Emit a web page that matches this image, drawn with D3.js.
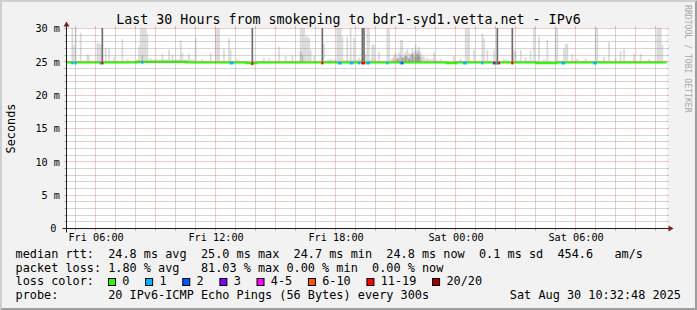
<!DOCTYPE html>
<html><head><meta charset="utf-8">
<script src="https://cdn.jsdelivr.net/npm/d3@7"></script>
<style>
html,body{margin:0;padding:0;background:#f2f2f2;}
svg{display:block;}
text{font-family:"DejaVu Sans Mono",monospace;}
</style></head><body>
<svg id="c" width="697" height="310"></svg>
<script>
// ---------- data ----------
const title = "Last 30 Hours from smokeping to bdr1-syd1.vetta.net - IPv6";
const yTicks = [0, 5, 10, 15, 20, 25, 30];
const yTickLabels = ["0", "5 m", "10 m", "15 m", "20 m", "25 m", "30 m"];
const xTickLabels = ["Fri 06:00", "Fri 12:00", "Fri 18:00", "Sat 00:00", "Sat 06:00"];
// median rtt (ms), one value per 30 minutes from start
const medianRtt = [24.9,24.9,24.9,24.9,24.9,24.9,24.9,25.0,25.0,25.0,
  25.0,25.0,24.9,24.9,24.9,24.9,24.9,24.9,24.8,24.9,
  24.9,24.9,24.9,24.9,24.9,24.9,24.9,24.9,24.9,24.9,
  24.9,24.9,24.9,24.9,24.9,24.9,24.9,24.9,24.8,24.9,
  24.9,24.9,24.9,24.9,24.9,24.9,24.9,24.8,24.8,24.9,
  24.9,24.9,24.9,24.9,24.9,24.9,24.9,24.9,24.9,24.9,24.9];
// thin smoke just above the median, per 30 minutes
const smokeBand = [25.15,25.15,25.15,25.15,25.15,25.15,25.15,25.35,25.35,25.35,
  25.35,25.35,25.35,25.15,25.15,25.15,25.15,25.15,25.15,25.15,
  25.15,25.15,25.15,25.15,25.15,25.15,25.3,25.3,25.3,25.3,
  25.3,25.15,25.4,25.4,25.4,25.4,25.4,25.15,25.15,25.15,
  25.15,25.15,25.15,25.15,25.15,25.15,25.15,25.15,25.15,25.15,
  25.15,25.15,25.15,25.15,25.15,25.15,25.15,25.15,25.15,25.15,25.15];
// smoke spikes: [5-minute step index, top of smoke in ms]
const smokeLight = [[3,31],[4,27.5],[5,31],[8,29.3],[12,26.1],[13,26.0],[18,27.8],[19,27.8],[20,27.6],[23,27.1],
  [25,27.0],[28,25.7],[33,28.4],[36,25.4],[43,27.3],[44,31],[45,31],[46,31],[47,31],[48,29.2],
  [50,25.5],[57,26.2],[61,26.8],[63,26.0],[68,28.2],[69,26.4],[73,26.2],[74,25.3],[77,28.6],[81,25.4],
  [86,26.3],[89,31],[90,31],[91,31],[94,26.9],[97,28.6],[98,26.8],[102,25.4],[118,25.6],[121,25.5],
  [127,27.3],[131,25.9],[135,26.0],[140,31],[141,31],[142,31],[143,28.8],[144,28.8],[145,28.6],[146,26.8],
  [148,25.9],[154,27.6],[158,25.4],[162,31],[163,31],[164,31],[165,28.8],[168,28.8],[170,31],[172,28.6],
  [175,25.6],[179,26.2],[180,31],[181,31],[183,27.6],[184,27.6],[187,26.5],[192,31],[193,31],[195,25.6],
  [196,26.0],[197,26.4],[198,25.8],[199,26.4],[200,28.3],[201,28.3],[202,26.1],[203,26.5],[204,26.9],[205,26.3],
  [206,26.2],[207,27.0],[208,26.5],[209,27.6],[210,26.8],[211,27.3],[212,26.4],[213,26.0],[214,25.8],[216,25.6],
  [220,26.4],[224,25.4],[232,25.9],[236,25.5],[239,31],[240,31],[241,31],[244,26.8],[249,29.3],[250,28.5],
  [252,26.8],[256,26.8],[262,25.5],[268,26.8],[269,26.5],[272,26.8],[275,25.7],[278,26.7],[280,31],[283,28.8],
  [286,25.4],[288,28.3],[293,31],[294,31],[298,26.9],[299,27.7],[300,27.7],[303,26.2],[306,25.5],[311,25.5],
  [317,31],[318,31],[322,25.8],[325,28.0],[329,25.6],[332,26.6],[334,26.9],[340,26.2],[344,26.2],[349,25.4],
  [354,31],[355,31],[356,31],[357,27.5]];
const smokeMedium = [[45,26.0],[140,26.5],[141,26.0],[196,25.4],[199,25.6],[200,26.0],[202,25.7],[204,25.8],
  [206,26.0],[208,25.8],[209,26.6],[211,26.6],[212,25.7]];
const smokeDark = [[198,25.4],[201,25.6],[203,25.9],[205,25.5],[207,26.2],[209,25.8],[210,26.2],[211,25.9]];
const smokeBlack = [[21,31],[111,31],[153,31],[177,31],[178,31],[258,31],[267,31]];
// lost pings: [5-minute step index, pings lost of 20]
const lossEvents = [[3,1],[5,1],[20,1],[21,12],[45,1],[98,1],[99,1],[111,12],[153,12],[163,1],[164,1],
  [170,1],[171,1],[175,1],[177,12],[178,15],[180,1],[181,1],[192,1],[200,1],[201,2],[238,1],[239,1],
  [249,1],[256,2],[257,12],[258,1],[259,12],[267,12],[297,1],[298,1],[316,1],[317,1]];
const lossLabels = ["0", "1", "2", "3", "4-5", "6-10", "11-19", "20/20"];
const lossMax = [0, 1, 2, 3, 5, 10, 19, 20];
const lossColors = ["#26ff00", "#00b8ff", "#0059ff", "#7e00ff", "#ff00ff", "#ff5500", "#ff0000", "#a10000"];
const legendRtt = "median rtt:  24.8 ms avg  25.0 ms max  24.7 ms min  24.8 ms now  0.1 ms sd  454.6   am/s";
const legendLoss = "packet loss: 1.80 % avg   81.03 % max 0.00 % min  0.00 % now";
const legendLossColor = "loss color:";
const legendProbe = "probe:       20 IPv6-ICMP Echo Pings (56 Bytes) every 300s";
const legendDate = "Sat Aug 30 10:32:48 2025";
const watermark = "RRDTOOL / TOBI OETIKER";

// ---------- chart ----------
const W = 697, H = 310;
const svg = d3.select("#c");
const start = new Date(2025, 7, 29, 4, 32, 48), end = new Date(2025, 7, 30, 10, 32, 48);
const x = d3.scaleTime().domain([start, end]).range([66.5, 666.5]);
const y = d3.scaleLinear().domain([0, 30]).range([228.5, 28.5]);
const px = v => Math.round(v - 0.5) + 0.5;
const tAt = s => new Date(+start + s * 300000);
const halfHour = i => new Date(+start + i * 1800000);
const stepW = x(tAt(1)) - x(tAt(0));
const medAt = t => medianRtt[Math.min(medianRtt.length - 1, Math.floor((t - start) / 1800000))];

svg.append("rect").attr("width", W).attr("height", H).attr("fill", "#f2f2f2");
svg.append("path").attr("d", `M0,${H}L2,${H-2}L2,2L${W-2},2L${W},0L0,0Z`).attr("fill", "#cfcfcf");
svg.append("path").attr("d", `M0,${H}L2,${H-2}L${W-2},${H-2}L${W-2},2L${W},0L${W},${H}Z`).attr("fill", "#9e9e9e");

const cx0 = x(start) + 0.5, cy0 = y(30) - 0.5, cw = x(end) - x(start), ch = y(0) - y(30);
svg.append("rect").attr("x", cx0).attr("y", cy0).attr("width", cw).attr("height", ch).attr("fill", "#fff");
svg.append("clipPath").attr("id", "clip").append("rect")
  .attr("x", cx0).attr("y", cy0).attr("width", cw).attr("height", ch);

const plot = svg.append("g").attr("clip-path", "url(#clip)");

// base smoke band
const band = d3.area().curve(d3.curveStepAfter)
  .x((d, i) => x(halfHour(i))).y0((d, i) => y(medianRtt[i]) + 0.5).y1(d => y(d));
plot.append("path").datum(smokeBand).attr("d", band).attr("fill", "#dcdcdc");

function drawSmoke(data, color) {
  plot.append("g").selectAll("rect").data(data).join("rect")
    .attr("x", d => x(tAt(d[0])))
    .attr("width", stepW)
    .attr("y", d => y(Math.min(d[1], 30.5)))
    .attr("height", d => y(medAt(tAt(d[0]))) - y(Math.min(d[1], 30.5)))
    .attr("fill", color);
}
drawSmoke(smokeLight, "#d9d9d9");
drawSmoke(smokeMedium, "#bababa");
drawSmoke(smokeDark, "#999999");
drawSmoke(smokeBlack, "#6c6c6c");

// grid
const grid = svg.append("g").attr("fill", "none");
const minorCol = "rgba(143,143,143,0.75)", majorCol = "rgba(222,79,79,0.6)";
d3.range(1, 31).forEach(v => {
  const yy = px(y(v)), col = v % 5 === 0 ? majorCol : minorCol;
  grid.append("line").attr("x1", x(start)).attr("x2", x(end)).attr("y1", yy).attr("y2", yy)
    .attr("stroke", col).attr("stroke-dasharray", "1,1");
  grid.append("line").attr("x1", x(start) - 2).attr("x2", x(start)).attr("y1", yy).attr("y2", yy).attr("stroke", col);
  grid.append("line").attr("x1", x(end)).attr("x2", x(end) + 2).attr("y1", yy).attr("y2", yy).attr("stroke", col);
});
d3.timeHour.range(start, end).forEach(h => {
  const xx = px(x(h)), col = h.getHours() % 3 === 0 ? majorCol : minorCol;
  grid.append("line").attr("x1", xx).attr("x2", xx).attr("y1", y(0)).attr("y2", y(30))
    .attr("stroke", col).attr("stroke-dasharray", "1,1");
  grid.append("line").attr("x1", xx).attr("x2", xx).attr("y1", y(0)).attr("y2", y(0) + 2).attr("stroke", col);
  grid.append("line").attr("x1", xx).attr("x2", xx).attr("y1", y(30) - 2).attr("y2", y(30)).attr("stroke", col);
});

// median line
const line = d3.line().curve(d3.curveStepAfter).x((d, i) => x(halfHour(i))).y(d => y(d));
plot.append("path").datum(medianRtt).attr("d", line)
  .attr("fill", "none").attr("stroke", lossColors[0]).attr("stroke-width", 2.2);

// loss-coloured median pieces
const lossColor = n => lossColors[lossMax.findIndex(m => n <= m)];
plot.append("g").selectAll("rect").data(lossEvents).join("rect")
  .attr("x", d => x(tAt(d[0])) - 0.3)
  .attr("width", stepW + 0.6)
  .attr("y", d => y(medAt(tAt(d[0]))) - 0.7)
  .attr("height", 2.6)
  .attr("fill", d => lossColor(d[1]));

// axes lines and arrows
const X0 = x(start), X1 = x(end), Y0 = y(0), Y1 = y(30);
svg.append("line").attr("x1", X0 - 4).attr("x2", X1 + 4).attr("y1", Y0).attr("y2", Y0).attr("stroke", "#1f1f1f");
svg.append("line").attr("x1", X0).attr("x2", X0).attr("y1", Y0 + 4).attr("y2", Y1 - 4).attr("stroke", "#1f1f1f");
svg.append("path").attr("d", `M${X1+2},${Y0-3}L${X1+2},${Y0+3}L${X1+7},${Y0}Z`).attr("fill", "#7f1f1f");
svg.append("path").attr("d", `M${X0-3},${Y1-2}L${X0+3},${Y1-2}L${X0},${Y1-7}Z`).attr("fill", "#7f1f1f");

// tick labels via d3 axes
const yAxis = svg.append("g").attr("transform", `translate(${X0},0)`)
  .call(d3.axisLeft(y).tickValues(yTicks).tickFormat((d, i) => yTickLabels[i]).tickSize(0).tickPadding(6.5));
yAxis.select(".domain").remove();
yAxis.attr("font-family", "DejaVu Sans Mono").attr("font-size", 10.2);
yAxis.selectAll("text").attr("fill", "#000").filter(d => d === 0).attr("x", -10);

const xTickDates = [new Date(2025,7,29,6), new Date(2025,7,29,12), new Date(2025,7,29,18), new Date(2025,7,30,0), new Date(2025,7,30,6)];
const xAxis = svg.append("g").attr("transform", `translate(0,${Y0})`)
  .call(d3.axisBottom(x).tickValues(xTickDates).tickFormat((d, i) => xTickLabels[i]).tickSize(0).tickPadding(5));
xAxis.select(".domain").remove();
xAxis.attr("font-family", "DejaVu Sans Mono").attr("font-size", 10.2);
xAxis.selectAll("text").attr("fill", "#000");

// title, unit, watermark
svg.append("text").attr("x", W / 2).attr("y", 23.5).attr("text-anchor", "middle")
  .attr("font-size", 13.3).text(title);
svg.append("text").attr("transform", `translate(15,${(Y0 + Y1) / 2}) rotate(-90)`)
  .attr("text-anchor", "middle").attr("font-size", 11.85).text("Seconds");
svg.append("text").attr("transform", "translate(684.5,5) rotate(90)")
  .attr("font-size", 8.15).attr("fill", "#a8a8a8").text(watermark);

// legend
const lg = svg.append("g").attr("font-size", 11.85);
const LX = 15.5, CW = 7.13;
const ltext = (xx, yy, s) => lg.append("text").attr("xml:space", "preserve")
  .style("white-space", "pre").attr("x", xx).attr("y", yy).text(s);
ltext(LX, 257.5, legendRtt);
ltext(LX, 271.5, legendLoss);
ltext(LX, 285.4, legendLossColor);
ltext(LX, 299.3, legendProbe);
ltext(681, 299.3, legendDate).attr("text-anchor", "end");
let sx = 108;
lossLabels.forEach((lab, i) => {
  lg.append("rect").attr("x", sx + 0.5).attr("y", 278.5).attr("width", 7).attr("height", 7)
    .attr("fill", lossColors[i]).attr("stroke", "#000");
  ltext(sx + 14.3, 285.4, lab);
  sx += 30 + lab.length * CW;
});
</script>
</body></html>
